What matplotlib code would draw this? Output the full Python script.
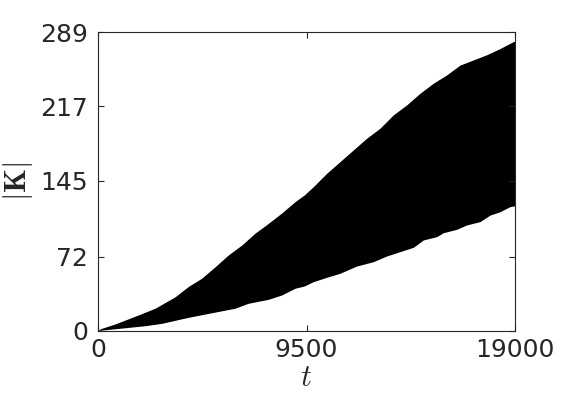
import matplotlib
matplotlib.use("Agg")
import matplotlib.pyplot as plt
import numpy as np

# Upper envelope of |K| vs t
t_upper = [0, 168, 775, 1837, 2597, 3508, 4114, 4722, 5330, 5937, 6544, 7152,
           7760, 8367, 8975, 9400, 9810, 10418, 11025, 11633, 12240, 12848,
           13455, 14063, 14671, 15278, 15886, 16493, 17100, 17708, 18316,
           18923, 19000]
k_upper = [1, 2.6, 6.8, 15.5, 22, 33, 43, 51, 62, 73.5, 83, 94.5,
           104, 114, 125, 131.5, 139.5, 152.4, 163.7, 175, 186.3, 196,
           208.9, 218.5, 229.8, 239.5, 247.5, 257, 262, 267, 273,
           279.7, 280]

# Lower envelope of |K| vs t
t_lower = [0, 2141, 2901, 4114, 5026, 6241, 6848, 7760, 8367, 8975, 9400,
           9810, 10418, 11025, 11785, 12544, 13151, 13759, 14367, 14823,
           15430, 15734, 16342, 16797, 17404, 17860, 18316, 18771, 19000]
k_lower = [0.5, 5.1, 7.4, 13.2, 17, 22, 26.8, 30.6, 34.8, 41.3, 43.5,
           47.7, 51.9, 55.8, 62.8, 67, 72.5, 76.7, 80.9, 88,
           91.2, 95, 98.3, 102.5, 105.7, 112, 115.3, 120.2, 121]

x_ticks = [0, 9500, 19000]
y_ticks = [0, 72, 145, 217, 289]

plt.rcParams['mathtext.fontset'] = 'cm'
plt.rcParams['font.family'] = ['DejaVu Sans']

fig = plt.figure(figsize=(5.7, 4.08), dpi=100)
ax = fig.add_axes([98/570, 1-331/408, (515-98)/570, (331-32)/408])

tt = np.array(sorted(set(t_upper) | set(t_lower)), dtype=float)
up = np.interp(tt, t_upper, k_upper)
lo = np.interp(tt, t_lower, k_lower)
ax.fill_between(tt, lo, up, color='black', linewidth=0)

ax.set_xlim(0, 19000)
ax.set_ylim(0, 289)
ax.set_xticks(x_ticks)
ax.set_yticks(y_ticks)
ax.set_xticklabels([str(v) for v in x_ticks])
ax.set_yticklabels([str(v) for v in y_ticks])

gray = '#262626'
for s in ax.spines.values():
    s.set_color(gray)
    s.set_linewidth(0.8)
ax.tick_params(direction='in', length=4, width=0.8, colors=gray,
               labelsize=18, top=True, right=True, pad=5)
ax.tick_params(axis='y', pad=7)

ax.set_xlabel(r'$t$', fontsize=22, color=gray, labelpad=1)
ax.set_ylabel(r'$|\mathbf{K}|$', fontsize=22, color=gray, labelpad=4)

fig.savefig('out.png', dpi=100)
